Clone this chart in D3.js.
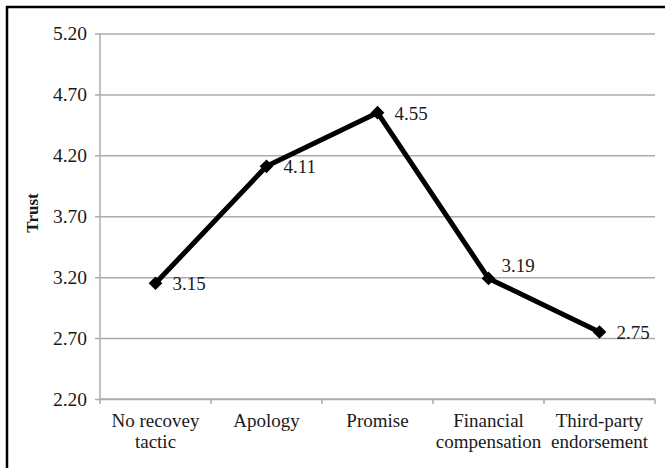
<!DOCTYPE html>
<html>
<head>
<meta charset="utf-8">
<script src="https://cdn.jsdelivr.net/npm/d3@7"></script>
<style>
  body { margin: 0; background: #fff; }
  svg { display: block; font-family: 'Liberation Serif', 'Times New Roman', serif; }
</style>
</head>
<body>
<div id="chart"></div>
<script>
// data
const categories = [['No recovey', 'tactic'], ['Apology'], ['Promise'], ['Financial', 'compensation'], ['Third-party', 'endorsement']]
const trust = [3.15, 4.11, 4.55, 3.19, 2.75]
const yTicks = [2.2, 2.7, 3.2, 3.7, 4.2, 4.7, 5.2]

const W = 665
const H = 468
const margin = { top: 33.5, left: 100, right: 10, bottom: 69 }
const width = 555
const height = H - margin.top - margin.bottom

const root = d3.select('#chart').append('svg')
  .attr('width', W)
  .attr('height', H)

// frame (left + top only)
root.append('path')
  .attr('d', `M7,${H} V7 H${W}`)
  .attr('fill', 'none')
  .attr('stroke', '#000')
  .attr('stroke-width', 2.5)

const svg = root.append('g')
  .attr('transform', 'translate(' + margin.left + ',' + margin.top + ')')

/// Scales
const xScale = d3.scaleBand().domain(d3.range(categories.length)).range([0, width])
const yScale = d3.scaleLinear().domain([2.2, 5.2]).range([height, 0])
const grid = '#ababab'
const ink = '#1a1a1a'

// gridlines + y axis
const yAxis = svg.append('g')
  .call(d3.axisLeft(yScale).tickValues(yTicks).tickFormat(d3.format('.2f'))
    .tickSizeInner(-width).tickSizeOuter(0).tickPadding(13))
  .attr('font-family', null)
yAxis.select('.domain').remove()
yAxis.selectAll('.tick line').attr('stroke', grid).attr('stroke-width', 1.5)
yAxis.selectAll('.tick text')
  .attr('font-size', 19.5)
  .attr('fill', ink)
// small outside tick marks
yAxis.selectAll('.tick').append('line')
  .attr('x1', -5).attr('x2', 0)
  .attr('stroke', grid).attr('stroke-width', 1.5)

// y axis line
svg.append('line')
  .attr('x1', 0).attr('x2', 0).attr('y1', 0).attr('y2', height)
  .attr('stroke', grid).attr('stroke-width', 1.5)

// x axis
const xAxis = svg.append('g').attr('transform', 'translate(0,' + height + ')')
xAxis.append('line')
  .attr('x1', 0).attr('x2', width)
  .attr('stroke', grid).attr('stroke-width', 1.5)
xAxis.selectAll('.xtick')
  .data(d3.range(categories.length + 1))
  .join('line')
  .attr('x1', i => i * xScale.bandwidth())
  .attr('x2', i => i * xScale.bandwidth())
  .attr('y1', 0).attr('y2', 5)
  .attr('stroke', grid).attr('stroke-width', 1.5)

xAxis.selectAll('.xlabel')
  .data(categories)
  .join('text')
  .attr('text-anchor', 'middle')
  .attr('font-size', 19)
  .attr('fill', ink)
  .attr('transform', (d, i) => `translate(${xScale(i) + xScale.bandwidth() / 2},28)`)
  .selectAll('tspan')
  .data(d => d)
  .join('tspan')
  .attr('x', 0)
  .attr('dy', (d, j) => j === 0 ? 0 : 21)
  .text(d => d)

// y title
root.append('text')
  .attr('transform', 'translate(38,213) rotate(-90)')
  .attr('text-anchor', 'middle')
  .attr('font-weight', 'bold')
  .attr('font-size', 17)
  .attr('fill', ink)
  .text('Trust')

// line
const cx = i => xScale(i) + xScale.bandwidth() / 2
svg.append('path')
  .datum(trust)
  .attr('d', d3.line().x((d, i) => cx(i)).y(d => yScale(d)))
  .attr('fill', 'none')
  .attr('stroke', '#000')
  .attr('stroke-width', 5)
  .attr('stroke-linejoin', 'round')

svg.selectAll('.marker')
  .data(trust)
  .join('path')
  .attr('d', d3.symbol(d3.symbolDiamond2, 120))
  .attr('transform', (d, i) => `translate(${cx(i)},${yScale(d)})`)
  .attr('fill', '#000')

// value labels
svg.selectAll('.val')
  .data(trust)
  .join('text')
  .attr('x', (d, i) => cx(i) + (i === 3 ? 13 : 17))
  .attr('y', (d, i) => yScale(d) + (i === 3 ? -6 : 7))
  .attr('font-size', 19)
  .attr('fill', ink)
  .text(d => d.toFixed(2))
</script>
</body>
</html>
